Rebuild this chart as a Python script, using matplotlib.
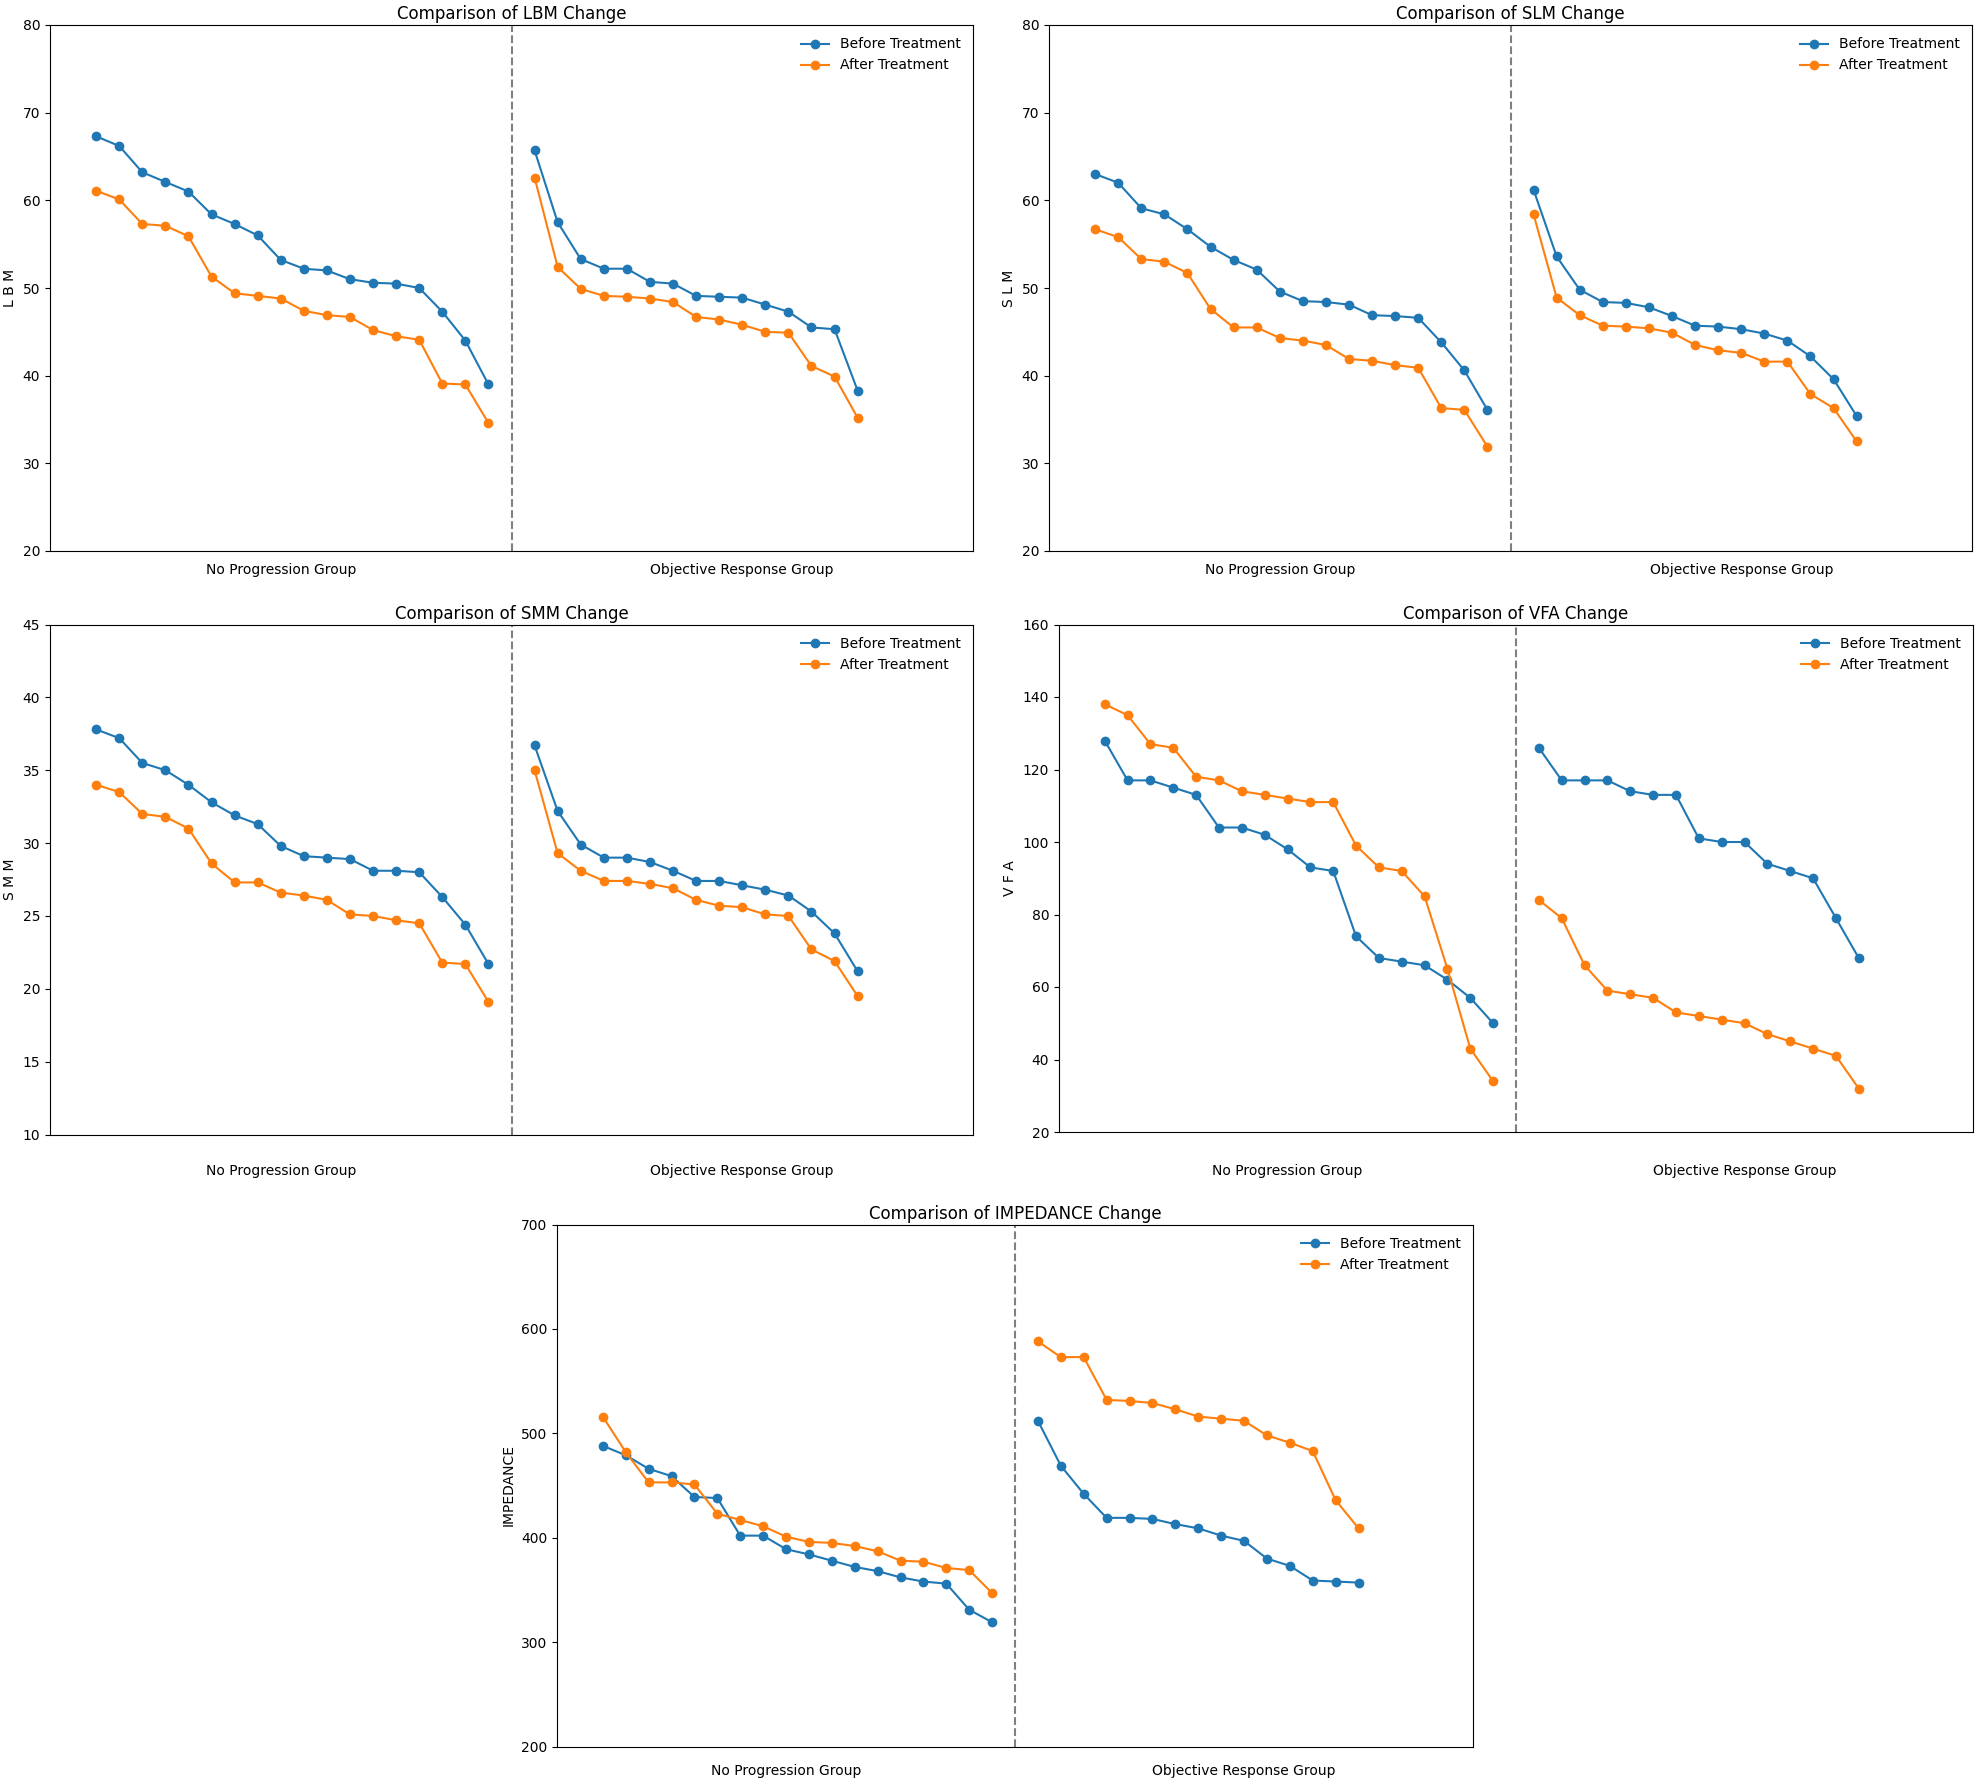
import matplotlib
matplotlib.use("Agg")
import matplotlib.pyplot as plt
import matplotlib.transforms as mtransforms

# ---------------- data ----------------
groups = ["No Progression Group", "Objective Response Group"]
series_names = ["Before Treatment", "After Treatment"]

lbm_np_before = [67.3, 66.2, 63.2, 62.1, 61.0, 58.4, 57.3, 56.0, 53.2, 52.2, 52.0, 51.0, 50.6, 50.5, 50.0, 47.3, 44.0, 39.0]
lbm_np_after = [61.1, 60.1, 57.3, 57.1, 55.9, 51.3, 49.4, 49.1, 48.8, 47.4, 46.9, 46.7, 45.2, 44.5, 44.1, 39.1, 39.0, 34.6]
lbm_or_before = [65.7, 57.5, 53.3, 52.2, 52.2, 50.7, 50.5, 49.1, 49.0, 48.9, 48.1, 47.3, 45.5, 45.3, 38.3]
lbm_or_after = [62.6, 52.4, 49.9, 49.1, 49.0, 48.8, 48.4, 46.7, 46.4, 45.8, 45.0, 44.9, 41.1, 39.9, 35.2]

slm_np_before = [63.0, 62.0, 59.1, 58.4, 56.7, 54.7, 53.2, 52.1, 49.6, 48.5, 48.4, 48.1, 46.9, 46.8, 46.6, 43.8, 40.6, 36.1]
slm_np_after = [56.7, 55.8, 53.3, 53.0, 51.7, 47.6, 45.5, 45.5, 44.3, 44.0, 43.5, 41.9, 41.7, 41.2, 40.9, 36.3, 36.1, 31.9]
slm_or_before = [61.2, 53.6, 49.8, 48.4, 48.3, 47.8, 46.8, 45.7, 45.6, 45.3, 44.8, 44.0, 42.2, 39.6, 35.4]
slm_or_after = [58.4, 48.9, 46.9, 45.7, 45.6, 45.4, 44.9, 43.5, 42.9, 42.6, 41.6, 41.6, 37.9, 36.3, 32.5]

smm_np_before = [37.8, 37.2, 35.5, 35.0, 34.0, 32.8, 31.9, 31.3, 29.8, 29.1, 29.0, 28.9, 28.1, 28.1, 28.0, 26.3, 24.4, 21.7]
smm_np_after = [34.0, 33.5, 32.0, 31.8, 31.0, 28.6, 27.3, 27.3, 26.6, 26.4, 26.1, 25.1, 25.0, 24.7, 24.5, 21.8, 21.7, 19.1]
smm_or_before = [36.7, 32.2, 29.9, 29.0, 29.0, 28.7, 28.1, 27.4, 27.4, 27.1, 26.8, 26.4, 25.3, 23.8, 21.2]
smm_or_after = [35.0, 29.3, 28.1, 27.4, 27.4, 27.2, 26.9, 26.1, 25.7, 25.6, 25.1, 25.0, 22.7, 21.9, 19.5]

vfa_np_before = [128, 117, 117, 115, 113, 104, 104, 102, 98, 93, 92, 74, 68, 67, 66, 62, 57, 50]
vfa_np_after = [138, 135, 127, 126, 118, 117, 114, 113, 112, 111, 111, 99, 93, 92, 85, 65, 43, 34]
vfa_or_before = [126, 117, 117, 117, 114, 113, 113, 101, 100, 100, 94, 92, 90, 79, 68]
vfa_or_after = [84, 79, 66, 59, 58, 57, 53, 52, 51, 50, 47, 45, 43, 41, 32]

imp_np_before = [488, 479, 466, 459, 439, 438, 402, 402, 389, 384, 378, 372, 368, 362, 358, 356, 331, 319]
imp_np_after = [516, 482, 453, 453, 451, 423, 417, 411, 401, 396, 395, 392, 387, 378, 377, 371, 369, 347]
imp_or_before = [512, 469, 442, 419, 419, 418, 413, 409, 402, 397, 380, 373, 359, 358, 357]
imp_or_after = [588, 573, 573, 532, 531, 529, 523, 516, 514, 512, 498, 491, 483, 436, 409]

metrics = ["LBM", "SLM", "SMM", "VFA", "IMPEDANCE"]
ylabels = ["L B M", "S L M", "S M M", "V F A", "IMPEDANCE"]
y_limits = [(20, 80), (20, 80), (10, 45), (20, 160), (200, 700)]
y_steps = [10, 10, 5, 20, 100]
values = {
    "LBM": (lbm_np_before, lbm_np_after, lbm_or_before, lbm_or_after),
    "SLM": (slm_np_before, slm_np_after, slm_or_before, slm_or_after),
    "SMM": (smm_np_before, smm_np_after, smm_or_before, smm_or_after),
    "VFA": (vfa_np_before, vfa_np_after, vfa_or_before, vfa_or_after),
    "IMPEDANCE": (imp_np_before, imp_np_after, imp_or_before, imp_or_after),
}

# ---------------- layout (pixel boxes: left, top, right, bottom) ----------------
W, H = 1978, 1782
boxes = [
    (50, 25, 973, 551),
    (1049, 25, 1972, 551),
    (50, 624.5, 973, 1134.5),
    (1059, 624.5, 1973, 1132),
    (557, 1224.5, 1473, 1746.5),
]
label_gap_px = [19, 19, 36, 38.5, 24]

fig = plt.figure(figsize=(W / 100, H / 100), dpi=100)
blue, orange = "#1f77b4", "#ff7f0e"

for i, m in enumerate(metrics):
    l, t, r, b = boxes[i]
    ax = fig.add_axes([l / W, 1 - b / H, (r - l) / W, (b - t) / H])
    np_b, np_a, or_b, or_a = values[m]
    n1 = len(np_b)
    x1 = list(range(n1))
    x2 = list(range(n1 + 1, n1 + 1 + len(or_b)))
    ax.plot(x1, np_b, marker="o", color=blue, label=series_names[0])
    ax.plot(x1, np_a, marker="o", color=orange, label=series_names[1])
    ax.plot(x2, or_b, marker="o", color=blue)
    ax.plot(x2, or_a, marker="o", color=orange)
    ax.axvline(n1, color="gray", linestyle="--")
    ax.set_xlim(-2, 2 * n1 + 2)
    lo, hi = y_limits[i]
    ax.set_ylim(lo, hi)
    ax.set_yticks(list(range(lo, hi + 1, y_steps[i])))
    ax.set_xticks([])
    ax.set_ylabel(ylabels[i])
    ax.set_title(f"Comparison of {m} Change", fontsize=12, pad=4)
    ax.legend(loc="upper right", frameon=False)
    trans = mtransforms.blended_transform_factory(ax.transAxes, ax.transAxes)
    frac = label_gap_px[i] / (b - t)
    ax.text(0.25, -frac, groups[0], transform=trans, ha="center", va="center")
    ax.text(0.75, -frac, groups[1], transform=trans, ha="center", va="center")

fig.savefig("out.png", dpi=100)
